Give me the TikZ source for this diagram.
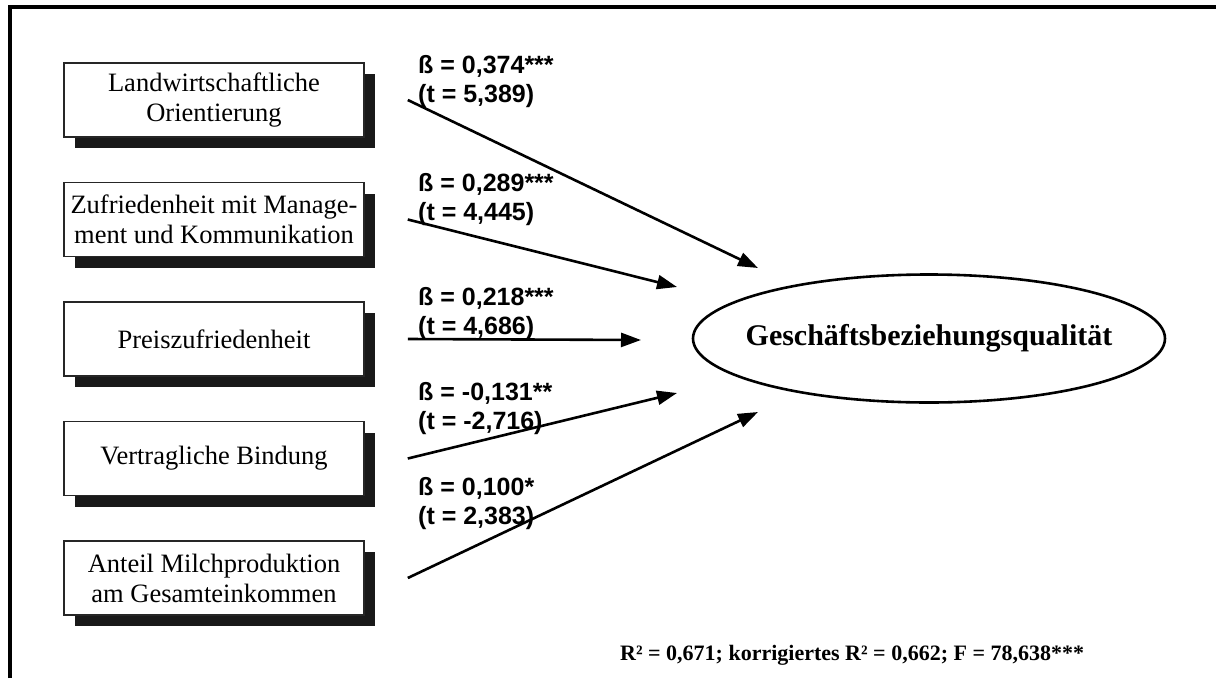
\documentclass[tikz,border=0pt]{standalone}
\usepackage{fontspec}
\setmainfont{Liberation Serif}
\newfontfamily\coeffont{Liberation Sans}
\usetikzlibrary{arrows.meta,shapes.geometric,shadows}

\tikzset{
	factor/.style={draw=black!85,line width=1.6pt,fill=white,minimum width=300pt,minimum height=74pt,align=center,inner sep=2pt,font=\fontsize{26.5}{30}\selectfont,
		drop shadow={shadow xshift=11pt,shadow yshift=-11pt,opacity=1,fill=black!90}},
	coef/.style={anchor=north west,inner sep=0pt,align=left,font=\coeffont\bfseries\fontsize{25}{29}\selectfont},
	effect/.style={line width=2.6pt,-{Triangle[length=20pt,width=14pt]}},
}

\begin{document}
\begin{tikzpicture}[x=1pt,y=-1pt]
		\useasboundingbox (0,0) rectangle (1216,678);
		\draw[line width=4pt,miter limit=10] (10,678) -- (10,6.5) -- (1216,6.5); %frame
		
		% influencing factors, top to bottom
		\node[factor] (lw)  at (214,100)   {Landwirtschaftliche\\Orientierung};
		\node[factor] (zmk) at (214,219.5) {Zufriedenheit mit Manage-\\ment und Kommunikation};
		\node[factor] (pz)  at (214,339)   {Preiszufriedenheit};
		\node[factor] (vb)  at (214,458.5) {Vertragliche Bindung};
		\node[factor] (amp) at (214,578)   {Anteil Milchproduktion\\am Gesamteinkommen};
		
		\node[ellipse,draw,line width=2.6pt,minimum width=472pt,minimum height=128pt,inner xsep=-20pt,inner ysep=0pt,
			font=\bfseries\fontsize{30}{34}\selectfont] (gbq) at (929,338.5) {Geschäftsbeziehungsqualität}; %target
		
		% arrow tips, left of the ellipse
		\coordinate (e1) at (758,268);
		\coordinate (e2) at (677,287);
		\coordinate (e3) at (641,340);
		\coordinate (e4) at (677,393);
		\coordinate (e5) at (758,412);
		
		\draw[effect] ([xshift=43pt]lw.east)  -- (e1); %beta 1
		\draw[effect] ([xshift=43pt]zmk.east) -- (e2); %beta 2
		\draw[effect] ([xshift=43pt]pz.east)  -- (e3); %beta 3
		\draw[effect] ([xshift=43pt]vb.east)  -- (e4); %beta 4
		\draw[effect] ([xshift=43pt]amp.east) -- (e5); %beta 5
		
		% coefficients
		\node[coef] (c1) at (418,55)  {ß = 0,374***\\(t = 5,389)};
		\node[coef] (c2) at (418,173) {ß = 0,289***\\(t = 4,445)};
		\node[coef] (c3) at (418,287) {ß = 0,218***\\(t = 4,686)};
		\node[coef] (c4) at (418,382) {ß = -0,131**\\(t = -2,716)};
		\node[coef] (c5) at (418,477) {ß = 0,100*\\(t = 2,383)};
		
		\node[anchor=base west,inner sep=0pt,font=\bfseries\fontsize{22}{26}\selectfont] (fit) at (620,660)
			{R² = 0,671; korrigiertes R² = 0,662; F = 78,638***}; %model fit
\end{tikzpicture}
\end{document}
